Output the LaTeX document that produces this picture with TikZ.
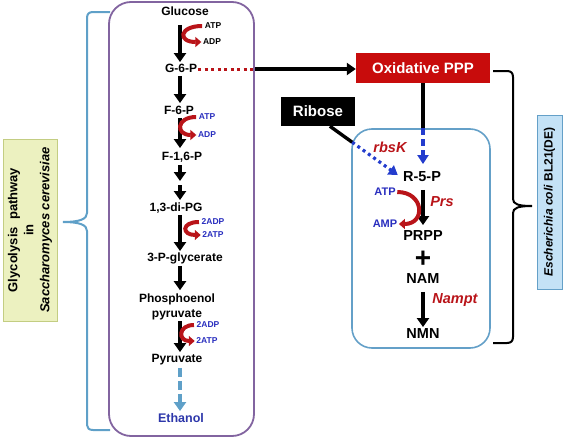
\documentclass[tikz,border=0pt]{standalone}
\usepackage{fontspec}
\setmainfont{Liberation Sans}
\usetikzlibrary{arrows.meta,calc}
\definecolor{arrred}{RGB}{185,20,25}
\definecolor{pppred}{RGB}{200,12,12}
\definecolor{txtblue}{RGB}{40,45,190}
\definecolor{ethblue}{RGB}{45,55,170}
\definecolor{lblue}{RGB}{95,160,200}
\definecolor{dblue}{RGB}{35,60,205}
\definecolor{purp}{RGB}{130,100,160}
\definecolor{yfill}{RGB}{236,241,192}
\definecolor{ydraw}{RGB}{195,205,130}
\definecolor{bfill}{RGB}{196,226,246}
\definecolor{bdraw}{RGB}{100,160,200}
\begin{document}
\begin{tikzpicture}[x=1pt,y=-1pt,
  gly/.style={font=\fontsize{12}{15}\selectfont\bfseries, inner sep=1pt, text height=9pt, text depth=2.5pt},
  rt/.style={font=\fontsize{14.5}{16}\selectfont\bfseries, inner sep=1pt, text height=10.5pt, text depth=3pt},
  enz/.style={font=\fontsize{14.5}{16}\selectfont\bfseries\itshape, text=arrred, inner sep=1pt},
  sm/.style={font=\fontsize{8.5}{9}\selectfont\bfseries, inner sep=0.5pt},
  smr/.style={font=\fontsize{11}{12}\selectfont\bfseries, inner sep=0.5pt, text=txtblue},
  blk/.style={line width=3.6pt, -{Triangle[width=12pt,length=9pt]}},
  blkline/.style={line width=3.4pt},
  redc/.style={draw=arrred, line width=4pt, -{Triangle[width=10pt,length=6pt]}},
  bluedash/.style={draw=dblue, line width=3.2pt, dash pattern=on 7pt off 4pt, -{Triangle[width=11pt,length=9pt]}},
  bluedot/.style={draw=dblue, line width=3.2pt, dash pattern=on 3pt off 3.5pt, -{Triangle[width=11pt,length=9pt]}},
  reddot/.style={draw=arrred, line width=3pt, dash pattern=on 3pt off 3.5pt},
  lbrace/.style={draw=lblue, line width=2pt},
  rbrace/.style={draw=black, line width=2pt}
]
\useasboundingbox (0,0) rectangle (565,439);

% containers
\node[draw=purp, line width=1.8pt, rounded corners=22pt, minimum width=145pt, minimum height=434pt, inner sep=0] (pbox) at (181.5,219) {};
\node[draw=bdraw, line width=1.6pt, rounded corners=20pt, minimum width=138pt, minimum height=219pt, inner sep=0] (bbox) at (421,238.5) {};

% side labels
\node[rotate=90, draw=ydraw, fill=yfill, line width=0.8pt, minimum width=182pt, minimum height=54pt, inner sep=0, align=center,
      font=\fontsize{13}{16}\selectfont\bfseries] (ylab) at (30,230)
  {Glycolysis\ \ pathway\\in\\\textit{Saccharomyces cerevisiae}};
\node[rotate=90, draw=bdraw, fill=bfill, line width=0.8pt, minimum width=174pt, minimum height=25pt, inner sep=0,
      font=\fontsize{12}{14}\selectfont\bfseries] (blab) at (549.5,202)
  {\textit{Escherichia coli} BL21(DE)};

% braces
\draw[lbrace] (110,12) -- (93,12) .. controls (89,12) and (87,14) .. (87,18) -- (87,213)
  .. controls (87,219) and (80,222) .. (63,222) .. controls (80,222) and (87,225) .. (87,231)
  -- (87,425) .. controls (87,428) and (89,430) .. (93,430) -- (110,430);
\draw[rbrace] (493,71) -- (507,71) .. controls (511,71) and (513,73) .. (513,77) -- (513,199)
  .. controls (513,204) and (518,206) .. (532,206) .. controls (518,206) and (513,208) .. (513,213)
  -- (513,337) .. controls (513,341) and (511,343) .. (507,343) -- (493,343);

% glycolysis nodes
\coordinate (axis) at (180,0);
\node[gly] (Glc) at (185,12) {Glucose};
\node[gly] (G6P) at (181,69) {G-6-P};
\node[gly] (F6P) at (179,111) {F-6-P};
\node[gly] (F16P) at (182,157) {F-1,6-P};
\coordinate (mid) at (180,183);
\node[gly] (dPG) at (176,208) {1,3-di-PG};
\node[gly] (PG3) at (185,258) {3-P-glycerate};
\node[font=\fontsize{12}{15}\selectfont\bfseries, inner sep=1pt, align=center] (PEP) at (177,306.5) {Phosphoenol\\pyruvate};
\node[gly, text=ethblue, font=\fontsize{12.5}{15}\selectfont\bfseries] (EtOH) at (181,419) {Ethanol};
\node[gly] (Pyr) at (177,359) {Pyruvate};

% cofactors glycolysis
\node[sm] (ATP1) at (213,26) {ATP};
\node[sm] (ADP1) at (212,42) {ADP};
\node[sm, text=txtblue] (ATP2) at (207,117) {ATP};
\node[sm, text=txtblue] (ADP2) at (207,135) {ADP};
\node[sm, text=txtblue] (ADP3) at (213,222) {2ADP};
\node[sm, text=txtblue] (ATP3) at (213,235) {2ATP};
\node[sm, text=txtblue] (ADP4) at (208,325) {2ADP};
\node[sm, text=txtblue] (ATP4) at (207,341) {2ATP};

% glycolysis arrows
\draw[blk, shorten <=6pt] (Glc.south -| axis) -- (G6P.north -| axis);
\draw[blk, shorten >=1pt] (G6P.south -| axis) -- (F6P.north -| axis);
\draw[blk, shorten >=2pt] (F6P.south -| axis) -- (F16P.north -| axis);
\draw[blk, shorten <=1pt, shorten >=2pt] (F16P.south -| axis) -- (mid);
\draw[blk, shorten <=2pt, shorten >=1pt] (mid) -- (dPG.north -| axis);
\draw[blk] (dPG.south -| axis) -- (PG3.north -| axis);
\draw[blk, shorten <=1pt, shorten >=2pt] (PG3.south -| axis) -- (PEP.north -| axis);
\draw[blk] (PEP.south -| axis) -- (Pyr.north -| axis);
\draw[draw=lblue, line width=3.4pt, dash pattern=on 9pt off 4pt, -{Triangle[width=12pt,length=9pt]}, shorten <=2pt, shorten >=1pt]
  (Pyr.south -| axis) -- (EtOH.north -| axis);

% red cofactor curves
\draw[redc, shorten <=2pt, shorten >=1pt] (ATP1.west) .. controls +(-25,0) and +(-25,0) .. (ADP1.west);
\draw[redc, shorten <=2pt, shorten >=1pt] (ATP2.west) .. controls +(-22,0) and +(-22,0) .. (ADP2.west);
\draw[redc, shorten <=2pt, shorten >=1pt] (ADP3.west) .. controls +(-20,0) and +(-20,0) .. (ATP3.west);
\draw[redc, shorten <=2pt, shorten >=1pt] (ADP4.west) .. controls +(-18,0) and +(-18,0) .. (ATP4.west);

% right side
\node[fill=pppred, text=white, font=\fontsize{15}{17}\selectfont\bfseries, minimum width=134pt, minimum height=30pt, inner sep=0] (OPPP) at (423,68) {Oxidative PPP};
\node[fill=black, text=white, font=\fontsize{15}{17}\selectfont\bfseries, minimum width=74pt, minimum height=29pt, inner sep=0] (Rib) at (318,111.5) {Ribose};

\node[rt] (R5P) at (422,178) {R-5-P};
\node[rt] (PRPP) at (423,237) {PRPP};
\node[font=\fontsize{28}{28}\selectfont\bfseries, inner sep=0] (plus) at (423,259) {+};
\node[rt] (NAM) at (423,280) {NAM};
\node[rt] (NMN) at (423,335) {NMN};

\node[enz] (rbsK) at (390,147) {rbsK};
\node[enz] (Prs) at (442,202) {Prs};
\node[enz] (Nampt) at (455,300) {Nampt};
\node[smr] (ATPr) at (385,192) {ATP};
\node[smr] (AMPr) at (385,224) {AMP};

% G-6-P to Oxidative PPP
\draw[reddot] (G6P.east) -- (G6P.east -| pbox.east);
\draw[blk] (G6P.east -| pbox.east) -- (G6P.east -| OPPP.west);

% Oxidative PPP to R-5-P
\draw[blkline] (OPPP.south) -- (OPPP.south |- bbox.north);
\draw[bluedash, shorten >=6pt] (OPPP.south |- bbox.north) -- (OPPP.south |- R5P.north);

% Ribose to R-5-P
\coordinate (rbs) at ($(Rib.south)!0.32!(Rib.south east)$);
\coordinate (rbk) at ($(rbs)!0.31!(R5P.west)$);
\draw[blkline] (rbs) -- (rbk);
\draw[bluedot, shorten >=5pt] (rbk) -- (R5P.west);

% R-5-P to PRPP, NAM to NMN
\draw[blk, shorten <=4pt, shorten >=4pt] (R5P.south -| PRPP.north) -- (PRPP.north);
\draw[blk, shorten <=4pt] (NAM.south) -- (NMN.north);

\draw[redc, shorten <=1pt, shorten >=1pt] (ATPr.east) .. controls +(28,0) and +(28,0) .. (AMPr.east);
\end{tikzpicture}
\end{document}
